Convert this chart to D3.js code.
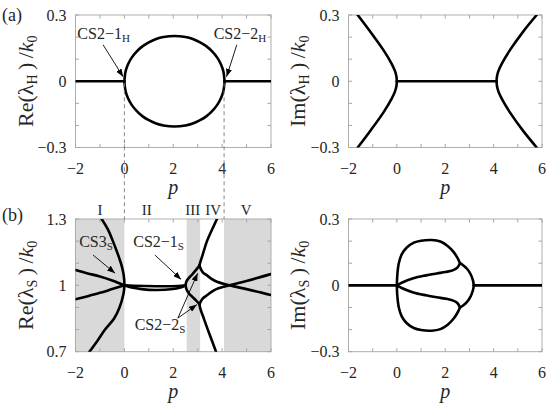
<!DOCTYPE html>
<html>
<head>
<meta charset="utf-8">
<script src="https://cdn.jsdelivr.net/npm/d3@7"></script>
<style>
  body { margin: 0; background: #fff; }
</style>
</head>
<body>
<script>
/* DATA */

const pDomain = [-2, 6];
const pTickLabels = [-2, 0, 2, 4, 6];
const imTickLabels = [-0.3, 0, 0.3];
const reSTickLabels = [0.7, 1, 1.3];

// (a) left: Re(lambda_H)/k0
const reH_flatLeft = [[-2, 0], [0, 0]];
const reH_flatRight = [[4.1, 0], [6, 0]];
const reH_upper = [[0, 0], [0.05, 0.045], [0.15, 0.077], [0.3, 0.107], [0.5, 0.134], [0.75, 0.159], [1.0, 0.176], [1.3, 0.191], [1.6, 0.2], [2.05, 0.205], [2.5, 0.2], [2.8, 0.191], [3.1, 0.176], [3.35, 0.159], [3.6, 0.134], [3.8, 0.107], [3.95, 0.077], [4.05, 0.045], [4.1, 0]];
const reH_lower = [[0, 0], [0.05, -0.045], [0.15, -0.077], [0.3, -0.107], [0.5, -0.134], [0.75, -0.159], [1.0, -0.176], [1.3, -0.191], [1.6, -0.2], [2.05, -0.205], [2.5, -0.2], [2.8, -0.191], [3.1, -0.176], [3.35, -0.159], [3.6, -0.134], [3.8, -0.107], [3.95, -0.077], [4.05, -0.045], [4.1, 0]];

// (a) right: Im(lambda_H)/k0
const imH_mid = [[0, 0], [4.12, 0]];
const imH_leftUpper = [[0, 0], [-0.02, 0.023], [-0.08, 0.047], [-0.22, 0.08], [-0.56, 0.142], [-1.11, 0.226], [-1.62, 0.3]];
const imH_leftLower = [[0, 0], [-0.02, -0.023], [-0.08, -0.047], [-0.22, -0.08], [-0.56, -0.142], [-1.11, -0.226], [-1.62, -0.3]];
const imH_rightUpper = [[4.12, 0], [4.14, 0.023], [4.2, 0.047], [4.34, 0.08], [4.68, 0.142], [5.23, 0.226], [5.78, 0.3]];
const imH_rightLower = [[4.12, 0], [4.14, -0.023], [4.2, -0.047], [4.34, -0.08], [4.68, -0.142], [5.23, -0.226], [5.78, -0.3]];

// (b) left: Re(lambda_S)/k0
const regions = [[-2, 0], [2.55, 3.1], [4.08, 6]];
const regionNames = ['I', 'II', 'III', 'IV', 'V'];
const regionLabelP = [-1, 0.92, 2.8, 3.63, 4.98];
const reS_cs3 = [[-0.93, 1.3], [-0.66, 1.25], [-0.47, 1.2], [-0.33, 1.16], [-0.2, 1.12], [-0.09, 1.08], [-0.02, 1.04], [0, 1.0], [-0.04, 0.96], [-0.2, 0.9], [-0.42, 0.85], [-0.79, 0.8], [-1.1, 0.75], [-1.43, 0.7]];
const reS_leftUpper = [[-2, 1.069], [-1.5, 1.054], [-1, 1.04], [-0.5, 1.022], [0, 1.0]];
const reS_leftLower = [[-2, 0.937], [-1.5, 0.951], [-1, 0.966], [-0.5, 0.983], [0, 1.0]];
const reS_lensUpper = [[0, 1.0], [0.4, 0.998], [1.3, 0.996], [2.2, 0.997], [2.5, 1.0]];
const reS_lensLower = [[0, 1.0], [0.3, 0.99], [0.7, 0.983], [1.3, 0.979], [1.9, 0.982], [2.3, 0.99], [2.5, 1.0]];
const reS_loopUpper = [[2.5, 1.0], [2.55, 1.02], [2.65, 1.035], [2.78, 1.05], [2.95, 1.072], [3.07, 1.09]];
const reS_loopLower = [[2.5, 1.0], [2.55, 0.98], [2.65, 0.962], [2.78, 0.948], [2.95, 0.93], [3.07, 0.915]];
const reS_branchUp = [[3.07, 1.09], [3.12, 1.11], [3.2, 1.137], [3.38, 1.2], [3.58, 1.25], [3.79, 1.3]];
const reS_branchDown = [[3.07, 0.915], [3.12, 0.89], [3.22, 0.86], [3.38, 0.81], [3.55, 0.76], [3.75, 0.7]];
const reS_crossA = [[3.07, 1.09], [3.2, 1.06], [3.38, 1.045], [3.6, 1.027], [3.79, 1.016], [4.3, 1.0], [5, 0.983], [6, 0.956]];
const reS_crossB = [[3.07, 0.915], [3.2, 0.94], [3.38, 0.955], [3.6, 0.973], [3.79, 0.984], [4.3, 1.0], [5, 1.02], [6, 1.051]];

// (b) right: Im(lambda_S)/k0
const imS_flatLeft = [[-2, 0], [0, 0]];
const imS_flatRight = [[3.18, 0], [6, 0]];
const imS_outerUpper = [[0, 0], [0.02, 0.05], [0.08, 0.1], [0.2, 0.14], [0.4, 0.17], [0.7, 0.193], [1.0, 0.202], [1.44, 0.205], [1.8, 0.198], [2.1, 0.178], [2.35, 0.15], [2.5, 0.125], [2.61, 0.1]];
const imS_outerLower = [[0, 0], [0.02, -0.05], [0.08, -0.1], [0.2, -0.14], [0.4, -0.17], [0.7, -0.193], [1.0, -0.202], [1.44, -0.205], [1.8, -0.198], [2.1, -0.178], [2.35, -0.15], [2.5, -0.125], [2.61, -0.1]];
const imS_bulgeUpper = [[2.61, 0.1], [2.75, 0.09], [2.9, 0.075], [3.05, 0.05], [3.15, 0.02], [3.18, 0]];
const imS_bulgeLower = [[2.61, -0.1], [2.75, -0.09], [2.9, -0.075], [3.05, -0.05], [3.15, -0.02], [3.18, 0]];
const imS_innerUpper = [[0, 0], [0.2, 0.012], [0.68, 0.032], [1.2, 0.045], [1.65, 0.054], [2.0, 0.06], [2.33, 0.069], [2.5, 0.08], [2.61, 0.1]];
const imS_innerLower = [[0, 0], [0.2, -0.012], [0.68, -0.032], [1.2, -0.045], [1.65, -0.054], [2.0, -0.06], [2.33, -0.069], [2.5, -0.08], [2.61, -0.1]];

/* SETUP */
const width = 550, height = 407;
const curveW = 2.6;
const frameColor = '#a6a6a6';
const shadeColor = '#d9d9d9';
const serif = '"Liberation Serif", "DejaVu Serif", serif';

const svg = d3.select('body').append('svg')
    .attr('width', width)
    .attr('height', height)
    .attr('font-family', serif)
    .attr('fill', '#262626');

const defs = svg.append('defs');
defs.append('marker')
    .attr('id', 'arrow')
    .attr('viewBox', '0 0 8 6')
    .attr('refX', 8).attr('refY', 3)
    .attr('markerWidth', 8).attr('markerHeight', 6)
    .attr('markerUnits', 'userSpaceOnUse')
    .attr('orient', 'auto')
  .append('path')
    .attr('d', 'M0,0 L8,3 L0,6 Z')
    .attr('fill', '#000');

const fmt = v => (v < 0 ? '\u2212' : '') + Math.abs(v);

function txt(sel, size) {
    return sel.append('text')
        .attr('font-family', serif)
        .attr('font-size', size)
        .attr('fill', '#262626');
}

function makePanel(id, left, right, top, bottom, yDomain) {
    const x = d3.scaleLinear().domain(pDomain).range([left, right]);
    const y = d3.scaleLinear().domain(yDomain).range([bottom, top]);
    defs.append('clipPath').attr('id', id)
      .append('rect')
        .attr('x', left).attr('y', top)
        .attr('width', right - left).attr('height', bottom - top);
    const g = svg.append('g');
    const line = d3.line()
        .x(d => x(d[0])).y(d => y(d[1]))
        .curve(d3.curveCatmullRom.alpha(0.5));
    return { id, x, y, g, line, left, right, top, bottom, yDomain };
}

function drawFrame(P, yLabels) {
    const { x, y, g, left, right, top, bottom, yDomain } = P;
    g.append('rect')
        .attr('x', left).attr('y', top)
        .attr('width', right - left).attr('height', bottom - top)
        .attr('fill', 'none')
        .attr('stroke', frameColor)
        .attr('stroke-width', 0.9);
    const tl = 3.5;
    d3.range(pDomain[0], pDomain[1] + 1e-9, 1).forEach(v => {
        g.append('line').attr('x1', x(v)).attr('x2', x(v)).attr('y1', bottom).attr('y2', bottom - tl)
            .attr('stroke', frameColor);
        g.append('line').attr('x1', x(v)).attr('x2', x(v)).attr('y1', top).attr('y2', top + tl)
            .attr('stroke', frameColor);
    });
    d3.range(Math.round(yDomain[0] * 10), Math.round(yDomain[1] * 10) + 1).forEach(k => {
        const v = k / 10;
        g.append('line').attr('x1', left).attr('x2', left + tl).attr('y1', y(v)).attr('y2', y(v))
            .attr('stroke', frameColor);
        g.append('line').attr('x1', right).attr('x2', right - tl).attr('y1', y(v)).attr('y2', y(v))
            .attr('stroke', frameColor);
    });
    pTickLabels.forEach(v => {
        txt(g, 16)
            .attr('x', x(v)).attr('y', bottom + 26)
            .attr('text-anchor', 'middle')
            .text(fmt(v));
    });
    yLabels.forEach(v => {
        txt(g, 16)
            .attr('x', left - 9).attr('y', y(v) + 5.5)
            .attr('text-anchor', 'end')
            .text(fmt(v));
    });
    txt(g, 20)
        .attr('x', (left + right) / 2).attr('y', bottom + 46)
        .attr('text-anchor', 'middle')
        .attr('font-style', 'italic')
        .text('p');
}

function yLabel(P, cx, fn, sub) {
    const cy = (P.top + P.bottom) / 2;
    const t = txt(svg, 22)
        .attr('transform', `translate(${cx},${cy}) rotate(-90)`)
        .attr('text-anchor', 'middle');
    t.append('tspan').text(fn + '(\u03bb');
    t.append('tspan').attr('dy', 4).attr('font-size', 14).text(sub);
    t.append('tspan').attr('dy', -4).text('\u2009)\u2009/');
    t.append('tspan').attr('font-style', 'italic').text('k');
    t.append('tspan').attr('dy', 4).attr('font-size', 14).text('0');
}

function curves(P, list) {
    const cg = P.g.append('g').attr('clip-path', `url(#${P.id})`);
    list.forEach(d => {
        cg.append('path')
            .attr('d', P.line(d))
            .attr('fill', 'none')
            .attr('stroke', '#000')
            .attr('stroke-width', curveW)
            .attr('stroke-linecap', 'round')
            .attr('stroke-linejoin', 'round');
    });
}

function annot(P, p, v, main, sub, arrows) {
    const t = txt(P.g, 16)
        .attr('x', P.x(p)).attr('y', P.y(v))
        .attr('text-anchor', 'middle');
    t.append('tspan').text(main);
    t.append('tspan').attr('dy', 3).attr('font-size', 11).text(sub);
    arrows.forEach(a => {
        P.g.append('line')
            .attr('x1', P.x(a[0])).attr('y1', P.y(a[1]))
            .attr('x2', P.x(a[2])).attr('y2', P.y(a[3]))
            .attr('stroke', '#000')
            .attr('stroke-width', 0.9)
            .attr('marker-end', 'url(#arrow)');
    });
}

/* PANELS */
const pA1 = makePanel('clipA1', 75.5, 271, 15, 147.5, [-0.3, 0.3]);
const pA2 = makePanel('clipA2', 348.5, 542, 15, 147.5, [-0.3, 0.3]);
const pB1 = makePanel('clipB1', 75.5, 271, 219, 351.7, [0.7, 1.3]);
const pB2 = makePanel('clipB2', 348.5, 542, 219, 351.7, [-0.3, 0.3]);

// shaded stability regions in (b) left
regions.forEach(r => {
    pB1.g.append('rect')
        .attr('x', pB1.x(r[0])).attr('y', pB1.top)
        .attr('width', pB1.x(r[1]) - pB1.x(r[0]))
        .attr('height', pB1.bottom - pB1.top)
        .attr('fill', shadeColor);
});

// dashed guides linking the two left panels
[0, 4.08].forEach(p => {
    svg.append('line')
        .attr('x1', pA1.x(p)).attr('x2', pA1.x(p))
        .attr('y1', pA1.y(0) + 2).attr('y2', pB1.top)
        .attr('stroke', '#7a7a7a')
        .attr('stroke-width', 0.9)
        .attr('stroke-dasharray', '4,3');
});

drawFrame(pA1, imTickLabels);
drawFrame(pA2, imTickLabels);
drawFrame(pB1, reSTickLabels);
drawFrame(pB2, imTickLabels);

curves(pA1, [reH_flatLeft, reH_flatRight, reH_upper, reH_lower]);
curves(pA2, [imH_mid, imH_leftUpper, imH_leftLower, imH_rightUpper, imH_rightLower]);
curves(pB1, [reS_leftUpper, reS_leftLower, reS_cs3, reS_lensUpper, reS_lensLower,
             reS_loopUpper, reS_loopLower, reS_branchUp, reS_branchDown, reS_crossA, reS_crossB]);
curves(pB2, [imS_flatLeft, imS_flatRight, imS_outerUpper, imS_outerLower,
             imS_bulgeUpper, imS_bulgeLower, imS_innerUpper, imS_innerLower]);

// region labels
regionNames.forEach((n, i) => {
    txt(pB1.g, 15)
        .attr('x', pB1.x(regionLabelP[i])).attr('y', pB1.top - 4)
        .attr('text-anchor', 'middle')
        .text(n);
});

yLabel(pA1, 33, 'Re', 'H');
yLabel(pA2, 305, 'Im', 'H');
yLabel(pB1, 33, 'Re', 'S');
yLabel(pB2, 305, 'Im', 'S');

txt(svg, 18).attr('x', 2).attr('y', 21).text('(a)');
txt(svg, 18).attr('x', 2).attr('y', 221).text('(b)');

annot(pA1, -0.85, 0.19, 'CS2\u22121', 'H', [[-0.87, 0.165, -0.05, 0.02]]);
annot(pA1, 4.73, 0.19, 'CS2\u22122', 'H', [[4.6, 0.165, 4.18, 0.02]]);
annot(pB1, -1.16, 1.172, 'CS3', 'S', [[-1.28, 1.137, -0.38, 1.055]]);
annot(pB1, 1.4, 1.172, 'CS2\u22121', 'S', [[1.25, 1.137, 2.32, 1.027]]);
annot(pB1, 1.46, 0.8, 'CS2\u22122', 'S', [[2.19, 0.852, 3.0, 1.055], [2.19, 0.852, 2.97, 0.913]]);
</script>
</body>
</html>
